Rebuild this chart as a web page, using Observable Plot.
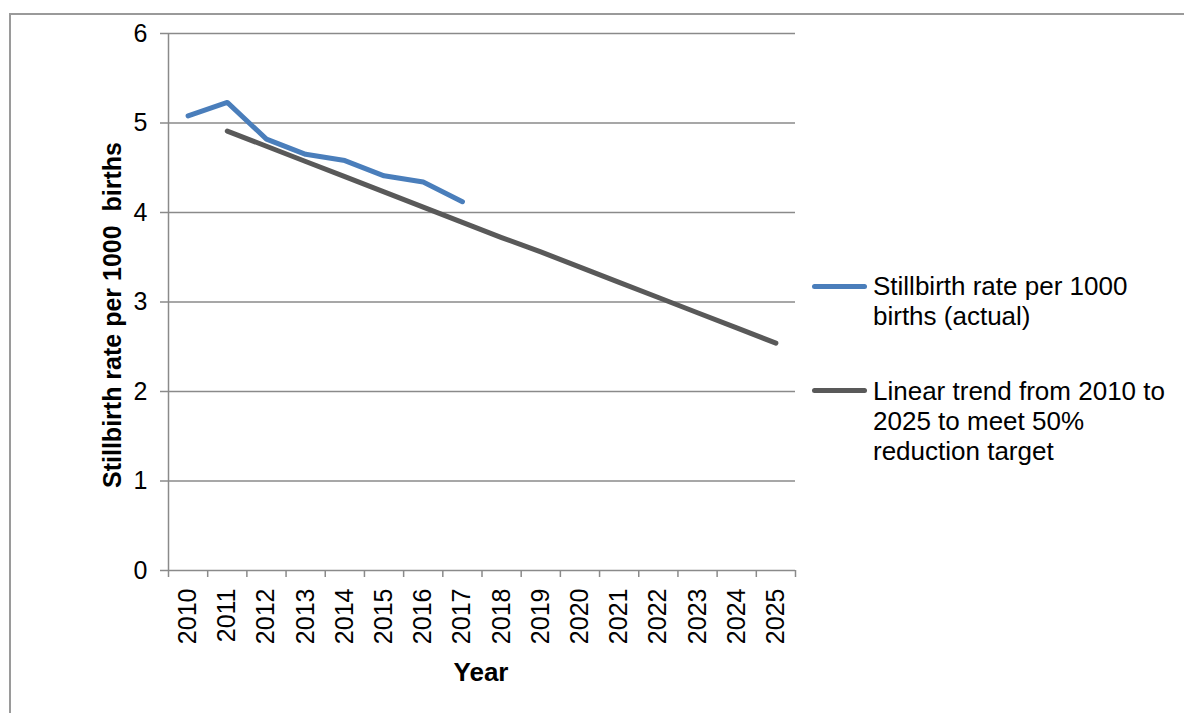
<!DOCTYPE html>
<html>
<head>
<meta charset="utf-8">
<script src="https://cdn.jsdelivr.net/npm/d3@7"></script>
<script src="https://cdn.jsdelivr.net/npm/@observablehq/plot@0.6"></script>
<style>
  html, body { margin: 0; padding: 0; background: #fff; width: 1184px; height: 713px; overflow: hidden; }
  #wrap { position: relative; width: 1184px; height: 713px; font-family: "Liberation Sans", Arial, sans-serif; }
  #frame { position: absolute; left: 9px; top: 13px; width: 1300px; height: 900px; border-top: 2px solid #9a9a9a; border-left: 2px solid #9a9a9a; box-sizing: border-box; }
  #chart { position: absolute; left: 0; top: 0; }
  .lg-line { position: absolute; left: 812px; width: 55px; height: 5px; border-radius: 2.5px; }
  .lg-text { position: absolute; left: 873px; font-size: 26px; line-height: 30px; color: #000; white-space: nowrap; }
  .axis-label { position: absolute; font-weight: bold; color: #000; white-space: pre; line-height: 1; }
  #ylab { left: 112px; top: 315px; font-size: 25px; transform: translate(-50%, -50%) rotate(-90deg); }
  #xlab { left: 481px; top: 672px; font-size: 26px; transform: translate(-50%, -50%); }
</style>
</head>
<body>
<div id="wrap">
  <div id="frame"></div>
  <div id="chart"></div>
  <div class="axis-label" id="ylab"></div>
  <div class="axis-label" id="xlab"></div>
  <div class="lg-line" style="top:284px;background:#4A7EBB"></div>
  <div class="lg-text" id="lg1" style="top:271px"></div>
  <div class="lg-line" style="top:388px;background:#595959"></div>
  <div class="lg-text" id="lg2" style="top:376px"></div>
</div>
<script>
const years = [2010, 2011, 2012, 2013, 2014, 2015, 2016, 2017, 2018, 2019, 2020, 2021, 2022, 2023, 2024, 2025];
const actualYears = [2010, 2011, 2012, 2013, 2014, 2015, 2016, 2017];
const actualRate = [5.08, 5.23, 4.82, 4.65, 4.58, 4.41, 4.34, 4.12];
const trendYears = [2011, 2012, 2013, 2014, 2015, 2016, 2017, 2018, 2019, 2020, 2021, 2022, 2023, 2024, 2025];
const trendRate = [4.91, 4.74, 4.57, 4.40, 4.23, 4.06, 3.89, 3.72, 3.56, 3.39, 3.22, 3.05, 2.88, 2.71, 2.54];
const yTicks = [0, 1, 2, 3, 4, 5, 6];
const legendLines1 = ["Stillbirth rate per 1000", "births (actual)"];
const legendLines2 = ["Linear trend from 2010 to", "2025 to meet 50%", "reduction target"];
const yLabel = "Stillbirth rate per 1000  births";
const xLabel = "Year";

const actual = actualYears.map((y, i) => ({year: y, rate: actualRate[i]}));
const trend = trendYears.map((y, i) => ({year: y, rate: trendRate[i]}));
const boundaries = [years[0] - 0.5, ...years.map(y => y + 0.5)];

const gray = "#8a8a8a";
const font = "'Liberation Sans', Arial, sans-serif";

const chart = Plot.plot({
  width: 1184,
  height: 713,
  marginLeft: 168,
  marginRight: 389,
  marginTop: 33,
  marginBottom: 143,
  style: {fontFamily: font, fontSize: "25px", color: "#000", background: "transparent"},
  x: {type: "linear", domain: [boundaries[0], boundaries[boundaries.length - 1]]},
  y: {domain: [0, 6]},
  marks: [
    Plot.gridY(yTicks.filter(d => d > 0), {stroke: gray, strokeOpacity: 1, strokeWidth: 1.5}),
    Plot.ruleY([0], {stroke: gray, strokeWidth: 1.5}),
    Plot.ruleX([boundaries[0]], {y1: 0, y2: 6, stroke: gray, strokeWidth: 1.5}),
    Plot.axisY({ticks: yTicks, tickSize: 8, tickPadding: 13, stroke: gray, strokeWidth: 1.5, fontSize: 25, label: null, tickFormat: d => String(d)}),
    Plot.axisX({ticks: boundaries, tickSize: 7, tickFormat: () => "", stroke: gray, strokeWidth: 1.5, label: null}),
    Plot.axisX({ticks: years, tickSize: 0, tickPadding: 18, tickRotate: -90, fontSize: 25, tickFormat: d => String(d), label: null}),
    Plot.line(trend, {x: "year", y: "rate", stroke: "#595959", strokeWidth: 5, strokeLinecap: "round", strokeLinejoin: "round"}),
    Plot.line(actual, {x: "year", y: "rate", stroke: "#4A7EBB", strokeWidth: 5, strokeLinecap: "round", strokeLinejoin: "round"})
  ]
});
document.getElementById("chart").appendChild(chart);
document.getElementById("ylab").textContent = yLabel;
document.getElementById("xlab").textContent = xLabel;
document.getElementById("lg1").innerHTML = legendLines1.join("<br>");
document.getElementById("lg2").innerHTML = legendLines2.join("<br>");
</script>
</body>
</html>
